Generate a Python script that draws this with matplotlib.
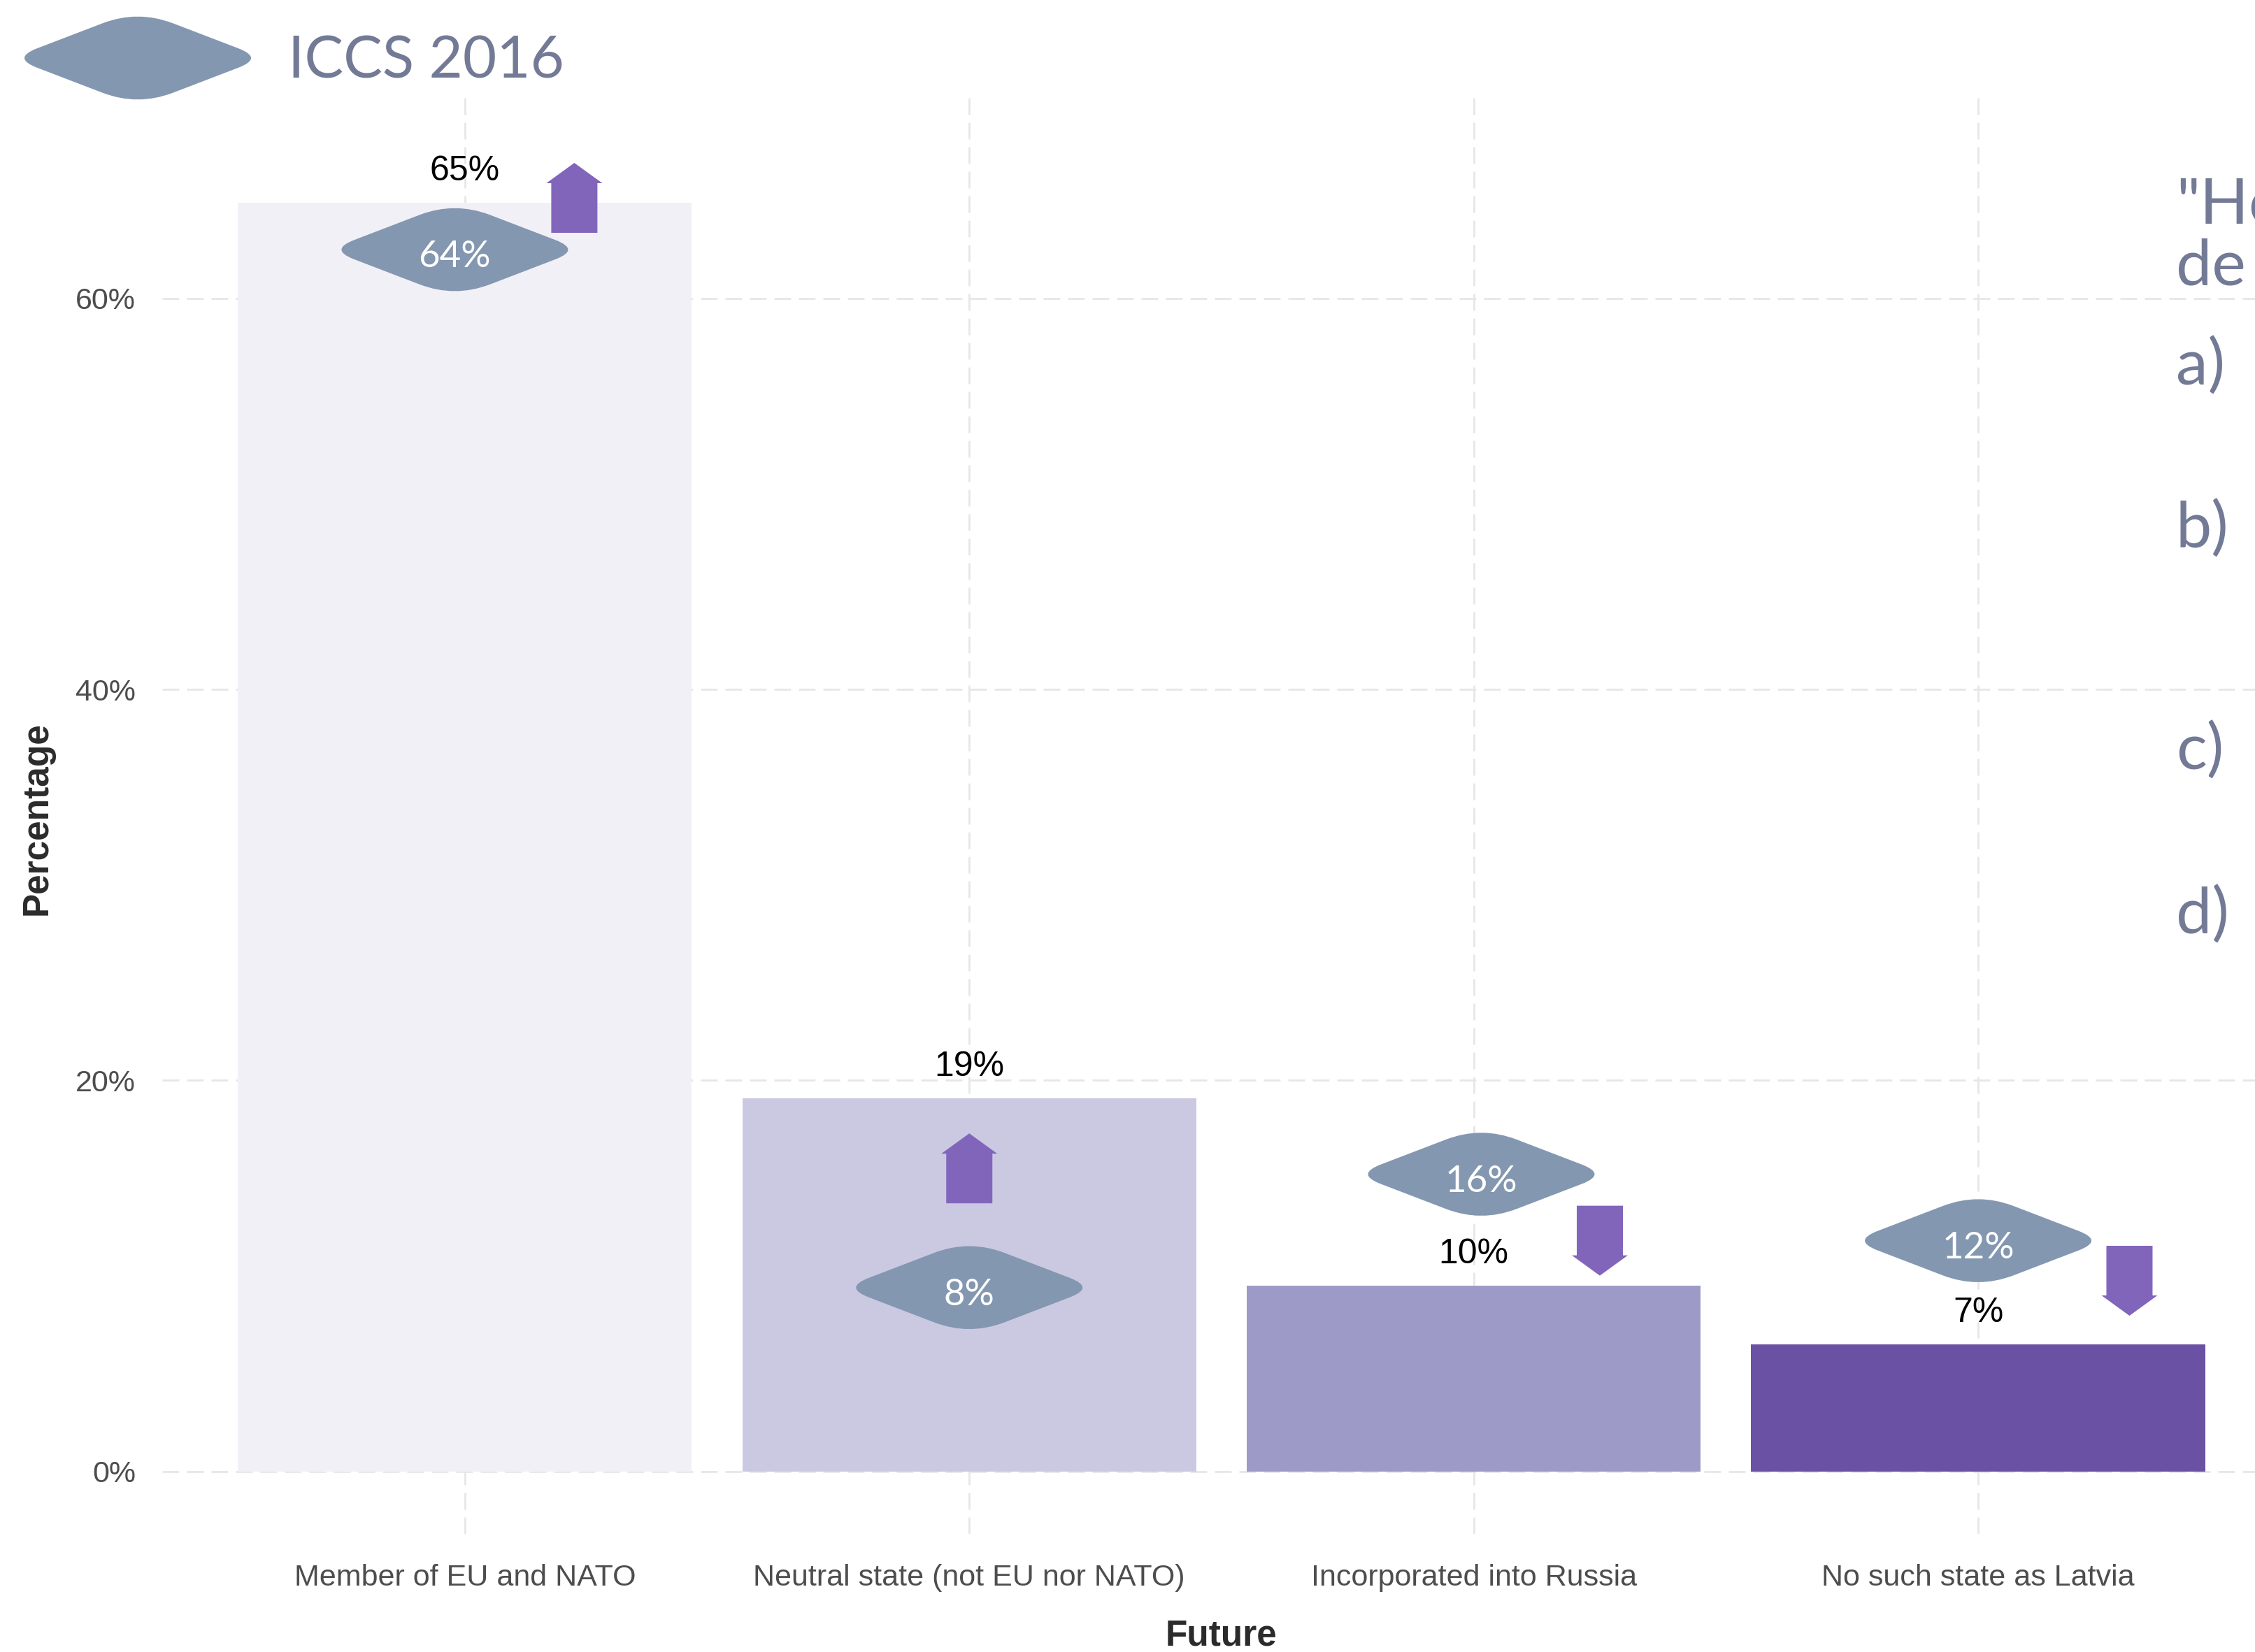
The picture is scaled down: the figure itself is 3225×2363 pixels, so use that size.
import numpy as np
import matplotlib
matplotlib.use("Agg")
import matplotlib.pyplot as plt
import matplotlib.transforms as mtransforms
from matplotlib.path import Path
from matplotlib.patches import PathPatch

DPI = 200
W, H = 3225, 2363

futures = ["Member of EU and NATO", "Neutral state (not EU nor NATO)",
           "Incorporated into Russia", "No such state as Latvia"]
current = [64.9, 19.1, 9.5, 6.5]
iccs_2016 = [64, 8, 16, 12]
bar_colors = ["#F2F0F7", "#CBC9E2", "#9E9AC8", "#6A51A3"]
y_ticks = [0, 20, 40, 60]
y_tick_labels = ["0%", "20%", "40%", "60%"]
legend_label = "ICCS 2016"
question = ['"Ho', "de"]
options = ["a)", "b)", "c)", "d)"]

# hand placed badges / arrows (offset from category centre, y in %)
badge_dx = [-0.02, 0.0, 0.015, 0.0]
badge_y = [62.5, 9.4, 15.2, 11.8]
arrow_dx = [0.217, 0.0, 0.25, 0.30]
arrow_y = [65.15, 15.5, 11.8, 9.75]

BADGE = "#8497B0"
ARROW = "#8165BB"
SLATE = "#737A96"
GRID = "#E6E6E6"

plt.rcParams["font.family"] = ["Liberation Sans", "DejaVu Sans"]
plt.rcParams["lines.scale_dashes"] = False


def diamond_path(hw=180, hh=69, t_side=0.2, t_top=0.28):
    # rounded diamond, units are output pixels
    corners = [(-hw, 0), (0, hh), (hw, 0), (0, -hh)]
    ts = [t_side, t_top, t_side, t_top]
    verts, codes = [], []
    for i in range(4):
        c = np.array(corners[i], float)
        p = np.array(corners[i - 1], float)
        n = np.array(corners[(i + 1) % 4], float)
        a = c + (p - c) * ts[i]
        b = c + (n - c) * ts[i]
        verts.append(a)
        codes.append(Path.MOVETO if i == 0 else Path.LINETO)
        verts += [c, b]
        codes += [Path.CURVE3, Path.CURVE3]
    verts.append(verts[0])
    codes.append(Path.CLOSEPOLY)
    return Path(verts, codes)


def arrow_path(up, sw=33, hw=40, hh=29, h=50):
    s = 1 if up else -1
    pts = [(-sw, -h), (sw, -h), (sw, h - hh), (hw, h - hh), (0, h),
           (-hw, h - hh), (-sw, h - hh)]
    pts = [(x, s * y) for x, y in pts]
    return Path(pts + [pts[0]], [Path.MOVETO] + [Path.LINETO] * 6 + [Path.CLOSEPOLY])


fig = plt.figure(figsize=(W / DPI, H / DPI), dpi=DPI)
ax = fig.add_axes([0.07194, 0.0715, 0.9395, 0.8692])
px = mtransforms.Affine2D().scale(1 / DPI) + fig.dpi_scale_trans

x = np.arange(len(futures))
ax.bar(x, current, width=0.9, color=bar_colors, zorder=2)
ax.set_xlim(-0.6, 3.6)
ax.set_ylim(-3.2, 70.26)
ax.set_yticks(y_ticks, y_tick_labels)
ax.set_xticks(x, futures)
ax.grid(True, color=GRID, lw=0.97, ls=(0, (8.6, 4.0)), zorder=0)
ax.set_axisbelow(True)
for s in ax.spines.values():
    s.set_visible(False)
ax.tick_params(axis="x", length=0, pad=15.5, labelsize=15.5, labelcolor="#4D4D4D")
ax.tick_params(axis="y", length=0, pad=13.7, labelsize=15.5, labelcolor="#4D4D4D")

ax.set_xlabel("Future", fontsize=18.5, fontweight="bold", color="#2B2B2B", va="baseline")
ax.xaxis.set_label_coords(0.5, -0.0775)
ax.set_ylabel("Percentage", fontsize=18.5, fontweight="bold", color="#2B2B2B", va="center")
ax.yaxis.set_label_coords(-0.0591, 0.4985)

for i, v in enumerate(current):
    ax.annotate(f"{int(v + 0.5)}%", (i, v), xytext=(0, 11.5), textcoords="offset points",
                ha="center", va="baseline", fontsize=18, color="black", zorder=5)

    bx, by = i + badge_dx[i], badge_y[i]
    ax.add_patch(PathPatch(diamond_path(), transform=px + mtransforms.ScaledTranslation(bx, by, ax.transData),
                           facecolor=BADGE, edgecolor="none", zorder=4))
    ax.annotate(f"{iccs_2016[i]}%", (bx, by), xytext=(0, -9), textcoords="offset points",
                ha="center", va="baseline", fontsize=19, color="white",
                family=["Lato", "DejaVu Sans"], zorder=5)

    up = v > iccs_2016[i]
    ax.add_patch(PathPatch(arrow_path(up),
                           transform=px + mtransforms.ScaledTranslation(i + arrow_dx[i], arrow_y[i], ax.transData),
                           facecolor=ARROW, edgecolor="none", zorder=4))

# legend badge top left
fig.add_artist(PathPatch(diamond_path(),
                         transform=px + mtransforms.ScaledTranslation(197 / W, 1 - 83 / H, fig.transFigure),
                         facecolor=BADGE, edgecolor="none"))
fig.text(412 / W, 1 - 111 / H, legend_label, fontsize=30, color=SLATE,
         family=["Lato", "DejaVu Sans"], ha="left", va="baseline")

# question text on the right, cut by the edge as in the slide
for txt, yb in zip(question + options, [320, 407, 551, 784, 1101, 1336]):
    fig.text(3112 / W, 1 - yb / H, txt, fontsize=33, color=SLATE,
             family=["Lato", "DejaVu Sans"], ha="left", va="baseline")

fig.savefig("out.png", dpi=DPI)
